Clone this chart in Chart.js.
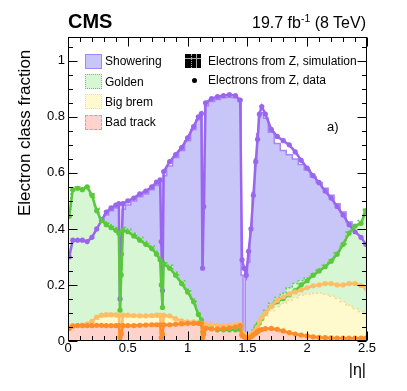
<!DOCTYPE html>
<html>
<head>
<meta charset="utf-8">
<script src="https://cdn.jsdelivr.net/npm/chart.js"></script>
<style>
  body { margin: 0; background: #fff; }
  #wrap { position: relative; width: 407px; height: 391px; font-family: "Liberation Sans", Arial, sans-serif; color: #000; }
  #wrap canvas { position: absolute; left: 0; top: 0; }
  .t { position: absolute; white-space: nowrap; line-height: 1; }
  .box { position: absolute; width: 15px; height: 13px; }
</style>
</head>
<body>
<div id="wrap">
  <canvas id="chart" width="407" height="391"></canvas>

  <div class="t" style="left:68px; top:11px; font-size:20px; font-weight:bold;">CMS</div>
  <div class="t" style="right:41px; top:14.5px; font-size:16px;">19.7 fb<span style="font-size:10.5px; position:relative; top:-6px;">-1</span> (8 TeV)</div>

  <div class="t" style="left:16px; top:216px; font-size:17px; transform-origin:left top; transform:rotate(-90deg);">Electron class fraction</div>
  <div class="t" style="right:41px; top:362px; font-size:16px;">|η|</div>
  <div class="t" style="left:327px; top:120px; font-size:13px;">a)</div>

  <!-- legend, left column -->
  <div class="box" style="left:85px; top:54px; background:#c8c6f8; border:1.5px solid #a884f5;"></div>
  <div class="t" style="left:105px; top:55.3px; font-size:12px;">Showering</div>
  <div class="box" style="left:85px; top:74px; background:#d6f6d4; border:1.5px dotted #5ccf4f;"></div>
  <div class="t" style="left:105px; top:75.8px; font-size:12px;">Golden</div>
  <div class="box" style="left:85px; top:94px; background:#fffacd; border:1.5px dotted #ffd68a;"></div>
  <div class="t" style="left:105px; top:95.8px; font-size:12px;">Big brem</div>
  <div class="box" style="left:85px; top:114.5px; background:#ffd2cc; border:1.5px dashed #ff9a4a;"></div>
  <div class="t" style="left:105px; top:116.3px; font-size:12px;">Bad track</div>

  <!-- legend, right column -->
  <div class="box" style="left:185px; top:54px; width:16px; height:14px; background:#000;">
    <div style="position:absolute; left:0; top:4px; width:16px; height:1px; background:#aaa;"></div>
    <div style="position:absolute; left:6px; top:0; width:1px; height:14px; border-left:1px dotted #aaa;"></div>
    <div style="position:absolute; left:11px; top:0; width:1px; height:14px; background:#aaa;"></div>
  </div>
  <div class="t" style="left:208px; top:54.8px; font-size:12px;">Electrons from Z, simulation</div>
  <div style="position:absolute; left:192px; top:77.5px; width:5px; height:5px; border-radius:50%; background:#000;"></div>
  <div class="t" style="left:208px; top:73.8px; font-size:12px;">Electrons from Z, data</div>
</div>

<script>
// |eta| bin centres (finer around the cracks)
const eta = [
  0.01, 0.04, 0.08, 0.12, 0.16, 0.20, 0.24, 0.28, 0.32, 0.36, 0.40, 0.425,
  0.435, 0.445,
  0.46, 0.50, 0.55, 0.60, 0.65, 0.70, 0.74, 0.77,
  0.78, 0.79,
  0.80, 0.85, 0.90, 0.95, 1.00, 1.05, 1.09, 1.115,
  1.125, 1.135,
  1.15, 1.20, 1.25, 1.30, 1.35, 1.40, 1.44,
  1.455, 1.472, 1.49, 1.51, 1.53, 1.55, 1.57, 1.585, 1.60, 1.62, 1.65,
  1.70, 1.75, 1.80, 1.85, 1.90, 1.95, 2.00, 2.05, 2.10, 2.15, 2.20, 2.25, 2.30, 2.35, 2.40, 2.45, 2.49
];

// data (points)
const showeringData = [
  0.30, 0.36, 0.36, 0.36, 0.355, 0.37, 0.40, 0.43, 0.46, 0.475, 0.485, 0.49,
  0.15, 0.31,
  0.49, 0.50, 0.51, 0.525, 0.535, 0.55, 0.567, 0.575,
  0.355, 0.18,
  0.605, 0.64, 0.665, 0.69, 0.725, 0.765, 0.80, 0.812,
  0.26, 0.48,
  0.85, 0.865, 0.872, 0.876, 0.879, 0.876, 0.86,
  0.29, 0.26, 0.235, 0.32, 0.40, 0.52, 0.64, 0.72, 0.81, 0.837, 0.81,
  0.755, 0.73, 0.715, 0.70, 0.675, 0.645, 0.617, 0.59, 0.565, 0.535, 0.51, 0.48, 0.45, 0.415, 0.39, 0.37, 0.345
];
const goldenData = [
  0.445, 0.54, 0.545, 0.54, 0.55, 0.52, 0.465, 0.43, 0.415, 0.405, 0.395, 0.385,
  0.11, 0.236,
  0.395, 0.39, 0.375, 0.36, 0.345, 0.33, 0.31, 0.29,
  0.20, 0.12,
  0.275, 0.26, 0.235, 0.205, 0.175, 0.14, 0.095, 0.075,
  0.03, 0.045,
  0.05, 0.045, 0.04, 0.04, 0.04, 0.04, 0.04,
  0.025, 0.018, 0.012, 0.012, 0.02, 0.03, 0.045, 0.055, 0.065, 0.08, 0.10,
  0.125, 0.14, 0.152, 0.165, 0.18, 0.20, 0.215, 0.235, 0.25, 0.265, 0.285, 0.31, 0.345, 0.385, 0.41, 0.42, 0.465
];
const bigBremData = [
  0.05, 0.055, 0.055, 0.057, 0.06, 0.07, 0.085, 0.092, 0.094, 0.094, 0.093, 0.092,
  0.02, 0.03,
  0.092, 0.092, 0.091, 0.09, 0.09, 0.091, 0.092, 0.092,
  0.03, 0.02,
  0.092, 0.09, 0.08, 0.072, 0.068, 0.068, 0.065, 0.063,
  0.025, 0.035,
  0.06, 0.058, 0.056, 0.055, 0.056, 0.058, 0.06,
  0.03, 0.025, 0.02, 0.02, 0.025, 0.03, 0.04, 0.05, 0.07, 0.085, 0.10,
  0.125, 0.145, 0.158, 0.168, 0.175, 0.182, 0.19, 0.197, 0.20, 0.205, 0.205, 0.20, 0.20, 0.205, 0.205, 0.198, 0.188
];
const badTrackData = [
  0.045, 0.053, 0.055, 0.055, 0.055, 0.055, 0.056, 0.056, 0.055, 0.055, 0.055, 0.055,
  0.012, 0.025,
  0.055, 0.055, 0.055, 0.056, 0.057, 0.058, 0.058, 0.058,
  0.012, 0.025,
  0.058, 0.058, 0.06, 0.062, 0.063, 0.063, 0.063, 0.062,
  0.012, 0.025,
  0.045, 0.043, 0.043, 0.045, 0.047, 0.05, 0.055,
  0.02, 0.015, 0.01, 0.008, 0.015, 0.022, 0.028, 0.034, 0.038, 0.041, 0.044,
  0.045, 0.042, 0.036, 0.03, 0.025, 0.021, 0.018, 0.015, 0.013, 0.012, 0.011, 0.01, 0.01, 0.01, 0.01, 0.01, 0.01
];

// simulation (filled histograms)
const showeringSim = [
  0.33, 0.355, 0.36, 0.355, 0.355, 0.37, 0.395, 0.42, 0.45, 0.465, 0.475, 0.48,
  0.16, 0.30,
  0.47, 0.485, 0.50, 0.515, 0.525, 0.54, 0.555, 0.565,
  0.34, 0.19,
  0.59, 0.625, 0.655, 0.68, 0.715, 0.755, 0.79, 0.805,
  0.27, 0.47,
  0.84, 0.855, 0.862, 0.868, 0.87, 0.868, 0.855,
  0.235, 0.005, 0.235, 0.28, 0.40, 0.53, 0.65, 0.74, 0.80, 0.815, 0.795,
  0.745, 0.705, 0.68, 0.665, 0.65, 0.63, 0.61, 0.585, 0.565, 0.545, 0.52, 0.49, 0.46, 0.425, 0.395, 0.37, 0.35
];
const goldenSim = [
  0.47, 0.545, 0.55, 0.545, 0.55, 0.525, 0.475, 0.44, 0.425, 0.415, 0.405, 0.395,
  0.12, 0.25,
  0.405, 0.40, 0.385, 0.37, 0.355, 0.34, 0.32, 0.30,
  0.21, 0.13,
  0.285, 0.27, 0.245, 0.215, 0.185, 0.15, 0.105, 0.08,
  0.035, 0.05,
  0.05, 0.045, 0.045, 0.04, 0.04, 0.04, 0.04,
  0.025, 0.005, 0.012, 0.015, 0.025, 0.04, 0.055, 0.065, 0.075, 0.09, 0.11,
  0.135, 0.155, 0.17, 0.19, 0.205, 0.215, 0.225, 0.24, 0.255, 0.27, 0.29, 0.315, 0.345, 0.39, 0.41, 0.43, 0.47
];
const bigBremSim = [
  0.05, 0.055, 0.055, 0.055, 0.058, 0.065, 0.078, 0.085, 0.087, 0.087, 0.087, 0.086,
  0.02, 0.03,
  0.086, 0.086, 0.085, 0.085, 0.085, 0.086, 0.087, 0.087,
  0.03, 0.02,
  0.087, 0.085, 0.076, 0.068, 0.064, 0.063, 0.061, 0.06,
  0.025, 0.035,
  0.057, 0.055, 0.053, 0.052, 0.053, 0.055, 0.057,
  0.03, 0.01, 0.02, 0.02, 0.025, 0.03, 0.038, 0.045, 0.06, 0.075, 0.09,
  0.108, 0.122, 0.135, 0.145, 0.155, 0.163, 0.168, 0.17, 0.17, 0.167, 0.16, 0.152, 0.14, 0.128, 0.115, 0.105, 0.10
];
const badTrackSim = [
  0.045, 0.05, 0.052, 0.052, 0.052, 0.052, 0.053, 0.053, 0.052, 0.052, 0.052, 0.052,
  0.012, 0.025,
  0.052, 0.052, 0.052, 0.053, 0.054, 0.055, 0.055, 0.055,
  0.012, 0.025,
  0.055, 0.055, 0.057, 0.058, 0.06, 0.06, 0.06, 0.059,
  0.012, 0.025,
  0.043, 0.041, 0.041, 0.043, 0.045, 0.048, 0.052,
  0.02, 0.012, 0.01, 0.008, 0.014, 0.02, 0.026, 0.032, 0.036, 0.039, 0.042,
  0.043, 0.04, 0.034, 0.029, 0.024, 0.02, 0.017, 0.014, 0.012, 0.011, 0.01, 0.01, 0.009, 0.009, 0.009, 0.009, 0.009
];

const xTicks = [0, 0.5, 1, 1.5, 2, 2.5];
const yTicks = [0, 0.2, 0.4, 0.6, 0.8, 1];

const pts = vals => eta.map((x, i) => ({ x: x, y: vals[i] }));
const fmt = v => String(Math.round(v * 10) / 10);

function simSet(vals, line, fill, dash, order) {
    return {
        data: pts(vals),
        borderColor: line,
        backgroundColor: fill,
        borderWidth: 1.5,
        borderDash: dash,
        stepped: "middle",
        fill: "origin",
        pointRadius: 0,
        order: order
    };
}

function dataSet(vals, col, order) {
    return {
        data: pts(vals),
        borderColor: col,
        backgroundColor: col,
        borderWidth: 2.5,
        pointRadius: 2.6,
        pointBorderWidth: 0,
        pointBackgroundColor: col,
        fill: false,
        tension: 0,
        order: order
    };
}

// ---------------- frame + inner ticks (ROOT style) ----------------
const frameTicks = {
    id: "frameTicks",
    afterDraw(chart) {
        const { ctx, chartArea: a, scales: { x, y } } = chart;
        const L = Math.round(a.left) + 0.5, R = Math.round(a.right) - 0.5;
        const T = Math.round(a.top) + 0.5, B = Math.round(a.bottom) - 0.5;
        ctx.save();
        ctx.strokeStyle = "#000";
        ctx.lineWidth = 1;
        ctx.strokeRect(L, T, R - L, B - T);
        ctx.beginPath();
        for (let i = 0; i <= 25; i++) {
            const px = Math.round(x.getPixelForValue(i / 10)) + 0.5;
            const len = i % 5 === 0 ? 9 : 4.5;
            ctx.moveTo(px, B); ctx.lineTo(px, B - len);
            ctx.moveTo(px, T); ctx.lineTo(px, T + len);
        }
        for (let i = 0; i <= 21; i++) {
            const py = Math.round(y.getPixelForValue(i * 0.05)) + 0.5;
            const len = i % 4 === 0 ? 9 : 4.5;
            ctx.moveTo(L, py); ctx.lineTo(L + len, py);
            ctx.moveTo(R, py); ctx.lineTo(R - len, py);
        }
        ctx.stroke();
        ctx.restore();
    }
};

new Chart(document.getElementById("chart"), {
    type: "line",
    data: {
        datasets: [
            dataSet(badTrackData, "#ff8c2a", 1),
            dataSet(bigBremData, "#ffbd66", 2),
            dataSet(goldenData, "#5ac83c", 3),
            dataSet(showeringData, "#9a66f0", 4),
            simSet(badTrackSim, "#ff9a4a", "#ffd2cc", [3, 2], 5),
            simSet(bigBremSim, "#ffd68a", "#fffacd", [2, 2], 6),
            simSet(goldenSim, "#5ccf4f", "#d6f6d4", [2, 2], 7),
            simSet(showeringSim, "#a884f5", "#c8c6f8", [], 8)
        ]
    },
    options: {
        responsive: false,
        animation: false,
        devicePixelRatio: 1,
        layout: { padding: { left: 0, right: 40, top: 37, bottom: 0 } },
        plugins: { legend: { display: false }, tooltip: { enabled: false } },
        scales: {
            x: {
                type: "linear",
                min: 0,
                max: 2.5,
                afterFit: s => { s.height = 50; },
                afterBuildTicks: s => { s.ticks = xTicks.map(v => ({ value: v })); },
                grid: { display: false, drawTicks: false },
                border: { display: false },
                ticks: { padding: 0, color: "#000", font: { family: "Liberation Sans", size: 13 }, callback: fmt }
            },
            y: {
                min: 0,
                max: 1.085,
                afterFit: s => { s.width = 68; },
                afterBuildTicks: s => { s.ticks = yTicks.map(v => ({ value: v })); },
                grid: { display: false, drawTicks: false },
                border: { display: false },
                ticks: { padding: 3, color: "#000", font: { family: "Liberation Sans", size: 13 }, callback: fmt }
            }
        }
    },
    plugins: [frameTicks]
});
</script>
</body>
</html>
